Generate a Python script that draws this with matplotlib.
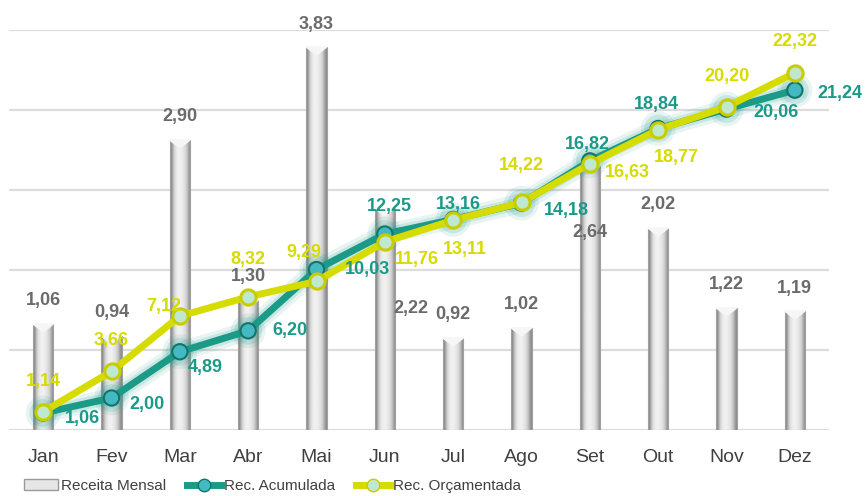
import numpy as np
import matplotlib
matplotlib.use("Agg")
import matplotlib.pyplot as plt
import matplotlib.patheffects as pe
from matplotlib.lines import Line2D
from matplotlib.patches import Patch

# dados
meses = ["Jan", "Fev", "Mar", "Abr", "Mai", "Jun", "Jul", "Ago", "Set", "Out", "Nov", "Dez"]
receita_mensal = [1.06, 0.94, 2.90, 1.30, 3.83, 2.22, 0.92, 1.02, 2.64, 2.02, 1.22, 1.19]
rec_acumulada = [1.06, 2.00, 4.89, 6.20, 10.03, 12.25, 13.16, 14.18, 16.82, 18.84, 20.06, 21.24]
rec_orcamentada = [1.14, 3.66, 7.12, 8.32, 9.29, 11.76, 13.11, 14.22, 16.63, 18.77, 20.20, 22.32]

# deslocamento dos rotulos (pixels)
off_barras = [(0, 24), (0, 23), (0, 23), (0, 23), (0, 23), (26, -100),
              (0, 23), (0, 23), (0, -66), (0, 23), (0, 23), (0, 23)]
off_acum = [(39, -5), (36, -7), (25, -16), (42, 0), (51, 0), (5, 28),
            (5, 15), (45, -7), (-2, 16), (-2, 24), (49, -3), (45, -3)]
off_orc = [(0, 30), (0, 31), (-16, 10), (0, 37), (-13, 29), (32, -18),
           (12, -29), (0, 37), (38, -9), (18, -28), (0, 30), (0, 31)]

TEAL = "#1c9a88"
AMARELO = "#d6dc00"
CINZA_TXT = "#6b6b6b"
fonte_num = ["Liberation Sans", "DejaVu Sans"]
fonte_txt = ["Liberation Sans", "DejaVu Sans"]

fig = plt.figure(figsize=(8.65, 4.96), dpi=100)
ax = fig.add_axes([9 / 865, 66 / 496, 820 / 865, 400 / 496])
x = np.arange(len(meses))

# barras com gradiente
largura = 0.3
grad = np.array([[0.5, 0.82, 0.92, 0.95, 0.93, 0.88, 0.8, 0.55]])
for xi, h in zip(x, receita_mensal):
    ax.imshow(grad, extent=[xi - largura / 2, xi + largura / 2, 0, h], aspect="auto",
              cmap="gray", vmin=0, vmax=1, zorder=2, interpolation="bicubic")
    ax.bar(xi, h, width=largura, color="none", edgecolor="#a0a0a0", linewidth=0.8, zorder=3)
    # chanfro no topo
    ax.fill([xi - largura / 2, xi + largura / 2, xi], [h, h, h - 0.08],
            color="#f6f6f6", zorder=3)

for i, (xi, h) in enumerate(zip(x, receita_mensal)):
    ax.annotate(f"{h:.2f}".replace(".", ","), (xi, h), xytext=off_barras[i],
                textcoords="offset pixels", ha="center", va="center",
                fontsize=13, fontweight="bold", color=CINZA_TXT, family=fonte_num, zorder=4)

ax.set_xlim(-0.5, len(meses) - 0.5)
ax.set_ylim(0, 4)
ax.set_yticks(np.arange(0, 4.01, 0.8))
ax.yaxis.grid(True, color="#dcdcdc", linewidth=1.6, zorder=0)
ax.set_axisbelow(True)
ax.set_xticks(x)
ax.set_xticklabels(meses, fontsize=14, color="#404040", family=fonte_txt)
for s in ax.spines.values():
    s.set_visible(False)

# linhas
ax2 = ax.twinx()
ax2.set_ylim(0, 25)
ax2.set_xlim(-0.5, len(meses) - 0.5)
ax2.axis("off")
ax.tick_params(axis="y", left=False, right=False, labelleft=False, labelright=False)
ax.tick_params(axis="x", bottom=False, pad=10)

ax2.plot(x, rec_acumulada, color=TEAL, linewidth=5, marker="o", markersize=11,
         markerfacecolor="#45b9c2", markeredgecolor="#13756a", markeredgewidth=1.5, zorder=3,
         path_effects=[pe.Stroke(linewidth=14, foreground=TEAL, alpha=0.10),
                       pe.Stroke(linewidth=9, foreground=TEAL, alpha=0.15), pe.Normal()])
ax2.plot(x, rec_orcamentada, color=AMARELO, linewidth=5, marker="o", markersize=11,
         markerfacecolor="#bfe8d0", markeredgecolor="#c8cc00", markeredgewidth=2.2, zorder=4)

for i, v in enumerate(rec_acumulada):
    ax2.annotate(f"{v:.2f}".replace(".", ","), (x[i], v), xytext=off_acum[i],
                 textcoords="offset pixels", ha="center", va="center",
                 fontsize=13, fontweight="bold", color=TEAL, family=fonte_num, zorder=6)
for i, v in enumerate(rec_orcamentada):
    ax2.annotate(f"{v:.2f}".replace(".", ","), (x[i], v), xytext=off_orc[i],
                 textcoords="offset pixels", ha="center", va="center",
                 fontsize=13, fontweight="bold", color=AMARELO, family=fonte_num, zorder=6)

# legenda
handles = [
    Patch(facecolor="#e6e6e6", edgecolor="#9a9a9a", label="Receita Mensal"),
    Line2D([], [], color=TEAL, linewidth=5, marker="o", markersize=9,
           markerfacecolor="#45b9c2", markeredgecolor="#13756a", label="Rec. Acumulada"),
    Line2D([], [], color=AMARELO, linewidth=5, marker="o", markersize=9,
           markerfacecolor="#bfe8d0", markeredgecolor="#c8cc00", label="Rec. Orçamentada"),
]
fig.legend(handles=handles, loc="center left", bbox_to_anchor=(18 / 865, 10 / 496), ncol=3,
           frameon=False, prop={"family": fonte_txt, "size": 11}, handlelength=2.2,
           handletextpad=0.2, columnspacing=1.4, labelcolor="#404040", borderaxespad=0)

fig.savefig("out.png", dpi=100)
